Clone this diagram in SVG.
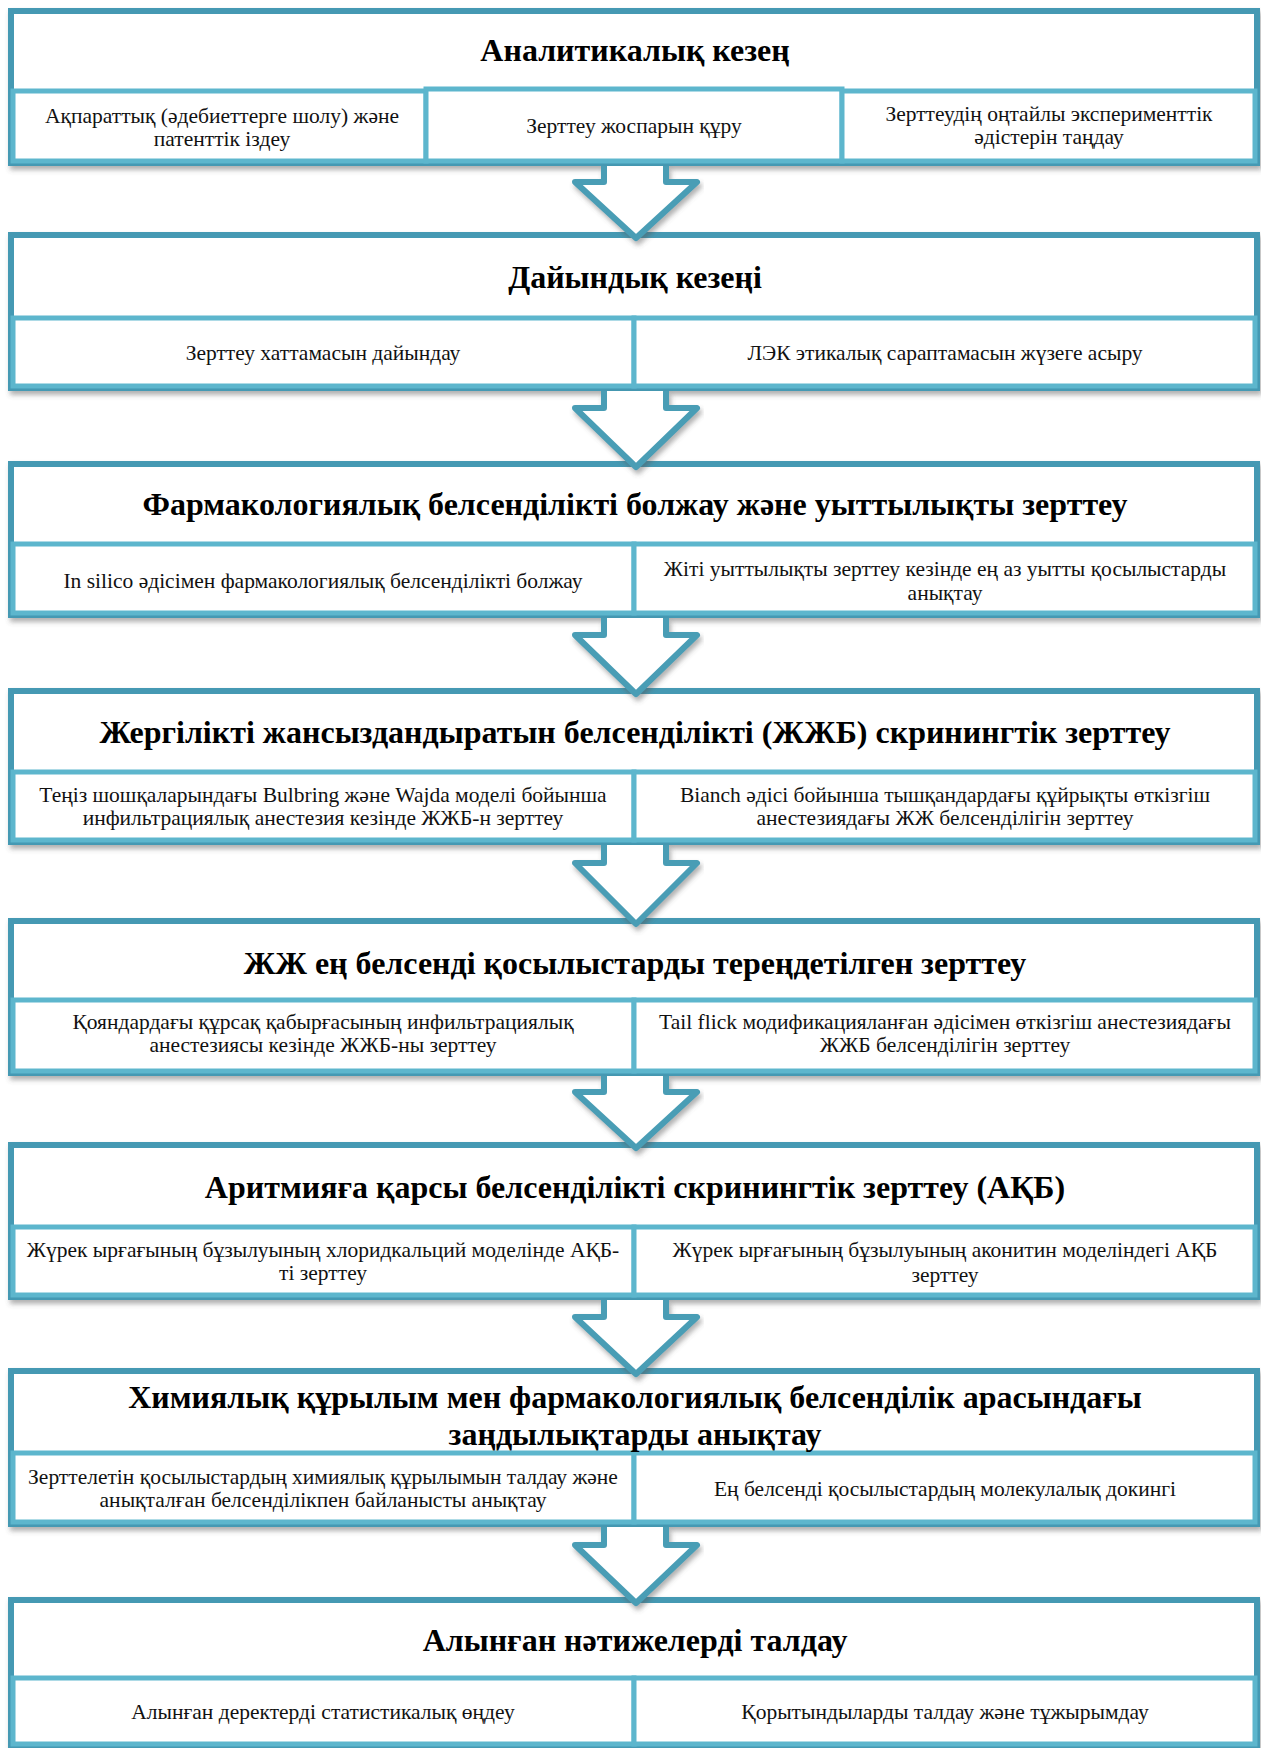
<svg xmlns="http://www.w3.org/2000/svg" width="1261" height="1748" viewBox="0 0 1261 1748">
<defs>
<filter id="sh" x="-5%" y="-10%" width="110%" height="130%">
<feDropShadow dx="2" dy="4" stdDeviation="2.5" flood-color="#555" flood-opacity="0.45"/>
</filter>
<style>
.outer{fill:#fff;stroke:#4499B3;stroke-width:6;}
.cell{fill:#fff;stroke:#5DB6CD;stroke-width:5;}
.arrow{fill:#fff;stroke:#4A9DB5;stroke-width:6;stroke-linejoin:round;}
.t{font-family:"Liberation Serif","Times New Roman",serif;font-weight:bold;font-size:32px;fill:#000;text-anchor:middle;}
.s{font-family:"Liberation Serif","Times New Roman",serif;font-size:21.5px;fill:#111;text-anchor:middle;}
</style>
</defs>
<rect width="1261" height="1748" fill="#fff"/>

<g id="b1" filter="url(#sh)">
<rect class="outer" x="11" y="11" width="1246" height="152"/>
<rect class="cell" x="13" y="91" width="413" height="70"/>
<rect class="cell" x="426" y="89" width="416" height="72"/>
<rect class="cell" x="842" y="91" width="413" height="70"/>
</g>
<g id="b1t">
<text class="t" x="635" y="61">Аналитикалық кезең</text>
<text class="s" x="222" y="123">Ақпараттық (әдебиеттерге шолу) және</text>
<text class="s" x="222" y="146">патенттік іздеу</text>
<text class="s" x="634" y="133">Зерттеу жоспарын құру</text>
<text class="s" x="1049" y="121">Зерттеудің оңтайлы эксперименттік</text>
<text class="s" x="1049" y="144">әдістерін таңдау</text>
</g>

<g id="b2" filter="url(#sh)">
<rect class="outer" x="11" y="235" width="1246" height="153"/>
<rect class="cell" x="13" y="318" width="621" height="68"/>
<rect class="cell" x="634" y="318" width="621" height="68"/>
</g>
<g id="b2t">
<text class="t" x="635" y="288">Дайындық кезеңі</text>
<text class="s" x="323" y="360">Зерттеу хаттамасын дайындау</text>
<text class="s" x="945" y="360">ЛЭК этикалық сараптамасын жүзеге асыру</text>
</g>

<g id="b3" filter="url(#sh)">
<rect class="outer" x="11" y="464" width="1246" height="151"/>
<rect class="cell" x="13" y="544" width="621" height="69"/>
<rect class="cell" x="634" y="544" width="621" height="69"/>
</g>
<g id="b3t">
<text class="t" x="635" y="515">Фармакологиялық белсенділікті болжау және уыттылықты зерттеу</text>
<text class="s" x="323" y="588">In silico әдісімен фармакологиялық белсенділікті болжау</text>
<text class="s" x="945" y="576">Жіті уыттылықты зерттеу кезінде ең аз уытты қосылыстарды</text>
<text class="s" x="945" y="600">анықтау</text>
</g>

<g id="b4" filter="url(#sh)">
<rect class="outer" x="11" y="691" width="1246" height="151"/>
<rect class="cell" x="13" y="772" width="621" height="68"/>
<rect class="cell" x="634" y="772" width="621" height="68"/>
</g>
<g id="b4t">
<text class="t" x="635" y="743">Жергілікті жансыздандыратын белсенділікті (ЖЖБ) скринингтік зерттеу</text>
<text class="s" x="323" y="802">Теңіз шошқаларындағы Bulbring және Wajda моделі бойынша</text>
<text class="s" x="323" y="825">инфильтрациялық анестезия кезінде ЖЖБ-н зерттеу</text>
<text class="s" x="945" y="802">Bianch әдісі бойынша тышқандардағы құйрықты өткізгіш</text>
<text class="s" x="945" y="825">анестезиядағы ЖЖ белсенділігін зерттеу</text>
</g>

<g id="b5" filter="url(#sh)">
<rect class="outer" x="11" y="921" width="1246" height="152"/>
<rect class="cell" x="13" y="1000" width="621" height="71"/>
<rect class="cell" x="634" y="1000" width="621" height="71"/>
</g>
<g id="b5t">
<text class="t" x="635" y="974">ЖЖ ең белсенді қосылыстарды тереңдетілген зерттеу</text>
<text class="s" x="323" y="1029">Қояндардағы құрсақ қабырғасының инфильтрациялық</text>
<text class="s" x="323" y="1052">анестезиясы кезінде ЖЖБ-ны зерттеу</text>
<text class="s" x="945" y="1029">Tail flick модификацияланған әдісімен өткізгіш анестезиядағы</text>
<text class="s" x="945" y="1052">ЖЖБ белсенділігін зерттеу</text>
</g>

<g id="b6" filter="url(#sh)">
<rect class="outer" x="11" y="1145" width="1246" height="152"/>
<rect class="cell" x="13" y="1227" width="621" height="68"/>
<rect class="cell" x="634" y="1227" width="621" height="68"/>
</g>
<g id="b6t">
<text class="t" x="635" y="1198">Аритмияға қарсы белсенділікті скринингтік зерттеу (АҚБ)</text>
<text class="s" x="323" y="1257">Жүрек ырғағының бұзылуының хлоридкальций моделінде АҚБ-</text>
<text class="s" x="323" y="1280">ті зерттеу</text>
<text class="s" x="945" y="1257">Жүрек ырғағының бұзылуының аконитин моделіндегі АҚБ</text>
<text class="s" x="945" y="1282">зерттеу</text>
</g>

<g id="b7" filter="url(#sh)">
<rect class="outer" x="11" y="1371" width="1246" height="153"/>
<rect class="cell" x="13" y="1453" width="621" height="69"/>
<rect class="cell" x="634" y="1453" width="621" height="69"/>
</g>
<g id="b7t">
<text class="t" x="635" y="1408">Химиялық құрылым мен фармакологиялық белсенділік арасындағы</text>
<text class="t" x="635" y="1445">заңдылықтарды анықтау</text>
<text class="s" x="323" y="1484">Зерттелетін қосылыстардың химиялық құрылымын талдау және</text>
<text class="s" x="323" y="1507">анықталған белсенділікпен байланысты анықтау</text>
<text class="s" x="945" y="1496">Ең белсенді қосылыстардың молекулалық докингі</text>
</g>

<g id="b8" filter="url(#sh)">
<rect class="outer" x="11" y="1600" width="1246" height="146"/>
<rect class="cell" x="13" y="1678" width="621" height="66"/>
<rect class="cell" x="634" y="1678" width="621" height="66"/>
</g>
<g id="b8t">
<text class="t" x="635" y="1651">Алынған нәтижелерді талдау</text>
<text class="s" x="323" y="1719">Алынған деректерді статистикалық өңдеу</text>
<text class="s" x="945" y="1719">Қорытындыларды талдау және тұжырымдау</text>
</g>

<g id="connectors" filter="url(#sh)">
<path class="arrow" d="M604,166 L604,182 L575,182 L636,238 L697,182 L666,182 L666,166"/>
<path class="arrow" d="M604,391 L604,408 L575,408 L636,467 L697,408 L666,408 L666,391"/>
<path class="arrow" d="M604,618 L604,635 L575,635 L636,694 L697,635 L666,635 L666,618"/>
<path class="arrow" d="M604,845 L604,863 L575,863 L636,924 L697,863 L666,863 L666,845"/>
<path class="arrow" d="M604,1076 L604,1092 L575,1092 L636,1148 L697,1092 L666,1092 L666,1076"/>
<path class="arrow" d="M604,1300 L604,1317 L575,1317 L636,1374 L697,1317 L666,1317 L666,1300"/>
<path class="arrow" d="M604,1527 L604,1545 L575,1545 L636,1603 L697,1545 L666,1545 L666,1527"/>
</g>
</svg>
